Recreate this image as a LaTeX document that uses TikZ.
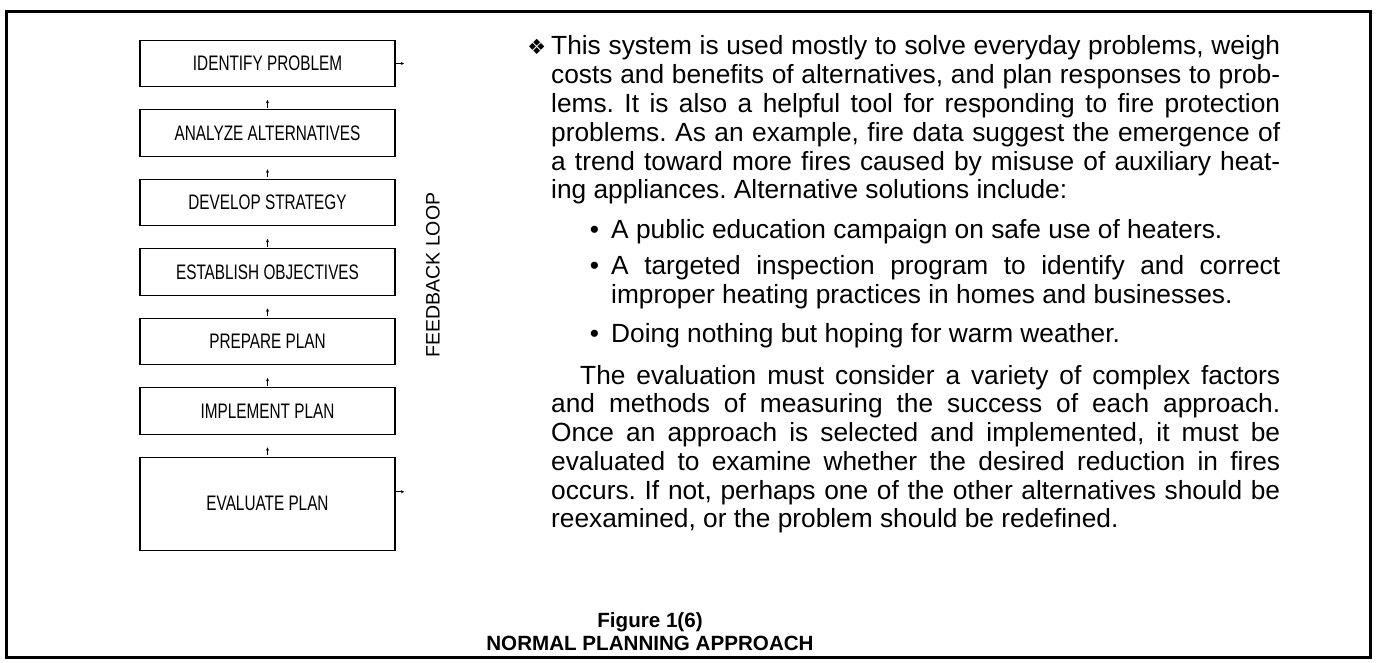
\documentclass[tikz,border=0pt]{standalone}
\usepackage{fontspec}
\setmainfont{Liberation Sans}
\newfontfamily\narrowfont[FakeStretch=0.73]{Liberation Sans}
\newfontfamily\dingfont{DejaVu Sans}
\usetikzlibrary{arrows.meta,positioning}
\frenchspacing
\tolerance=9999
\hyphenpenalty=10000
\tikzset{
    stage/.style={rectangle, draw=black, line width=1.2pt, minimum width=255pt,
                  minimum height=#1, inner sep=0pt, outer sep=0pt, align=center,
                  font=\narrowfont\fontsize{21}{24}\selectfont},
    stage/.default=46.5pt,
    stub/.style={-{Stealth[length=3.5pt,width=3pt]}, line width=1pt,
                 shorten <=2pt, shorten >=13pt},
    fbstub/.style={-{Stealth[length=3pt,width=3pt]}, line width=1pt},
    body/.style={anchor=base west, inner sep=0pt, align=justify,
                 font=\fontsize{26.3}{28.8}\selectfont},
    capt/.style={anchor=base, inner sep=0pt,
                 font=\bfseries\fontsize{20.6}{23}\selectfont},
}

\begin{document}
\begin{tikzpicture}[x=1pt, y=-1pt, node distance=23pt]
    \useasboundingbox (0,0) rectangle (1377,663);
    \draw[line width=3pt] (6.5,11.5) rectangle (1370.5,657.5);

    % planning steps
    \node[stage] (idp) at (267.5,63.5) {IDENTIFY PROBLEM};
    \node[stage, below=of idp] (ana) {ANALYZE ALTERNATIVES};
    \node[stage, below=of ana] (dev) {DEVELOP STRATEGY};
    \node[stage, below=of dev] (est) {ESTABLISH OBJECTIVES};
    \node[stage, below=of est] (prp) {PREPARE PLAN};
    \node[stage, below=of prp] (imp) {IMPLEMENT PLAN};
    \node[stage=93pt, below=of imp] (evp) {EVALUATE PLAN};

    \draw[stub] (ana.north) -- (idp.south);
    \draw[stub] (dev.north) -- (ana.south);
    \draw[stub] (est.north) -- (dev.south);
    \draw[stub] (prp.north) -- (est.south);
    \draw[stub] (imp.north) -- (prp.south);
    \draw[stub] (evp.north) -- (imp.south);

    % feedback ends
    \coordinate (fbtop) at ([xshift=9pt]idp.east);
    \coordinate (fbeval) at ([yshift=12pt]evp.east);
    \coordinate (fbbot) at ([xshift=9pt]fbeval);
    \draw[fbstub] (idp.east) -- (fbtop);
    \draw[fbstub] (fbeval) -- (fbbot);
    \node[rotate=90, inner sep=0pt, font=\fontsize{19.5}{22}\selectfont]
        (loop) at (433,275) {FEEDBACK LOOP};

    % text column
    \node[body, text width=729pt] (intro) at (551,55) {\leavevmode\llap{{\dingfont\fontsize{21}{24}\selectfont ❖}\hspace{5pt}}This system is used mostly to solve everyday problems, weigh\linebreak costs and benefits of alternatives, and plan responses to prob-\linebreak lems. It is also a helpful tool for responding to fire protection\linebreak problems. As an example, fire data suggest the emergence of\linebreak a trend toward more fires caused by misuse of auxiliary heat-\linebreak ing appliances. Alternative solutions include:};
    \node[body, text width=669pt] (opt1) at (611,239) {\leavevmode\llap{\textbullet\hspace{12pt}}A public education campaign on safe use of heaters.};
    \node[body, text width=669pt] (opt2) at (611,275) {\leavevmode\llap{\textbullet\hspace{12pt}}A targeted inspection program to identify and correct\linebreak improper heating practices in homes and businesses.};
    \node[body, text width=669pt] (opt3) at (611,342) {\leavevmode\llap{\textbullet\hspace{12pt}}Doing nothing but hoping for warm weather.};
    \node[body, text width=729pt] (eval) at (551,384) {\hspace*{29pt}The evaluation must consider a variety of complex factors\linebreak and methods of measuring the success of each approach.\linebreak Once an approach is selected and implemented, it must be\linebreak evaluated to examine whether the desired reduction in fires\linebreak occurs. If not, perhaps one of the other alternatives should be\linebreak reexamined, or the problem should be redefined.};

    \node[capt] (fignum) at (650,627) {Figure 1(6)};
    \node[capt] (figtitle) at (650,650) {NORMAL PLANNING APPROACH};
\end{tikzpicture}
\end{document}
